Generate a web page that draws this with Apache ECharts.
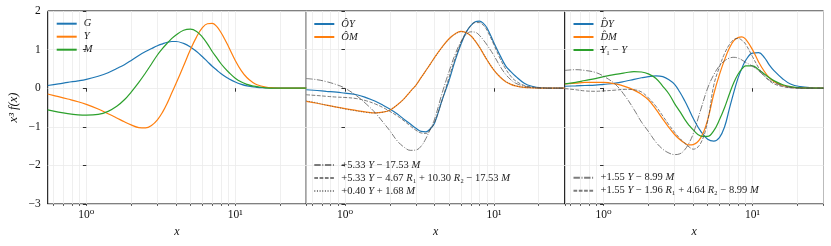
<!DOCTYPE html>
<html>
<head>
<meta charset="utf-8">
<script src="https://cdn.jsdelivr.net/npm/echarts@6/dist/echarts.min.js"></script>
<style>html,body{margin:0;padding:0;background:#fff}#c{width:831px;height:246px}</style>
</head>
<body>
<div id="c"></div>
<script>
// ---- data (x values shared by all curves) ----
const xs = [0.55, 0.65, 0.75, 0.88, 1.0, 1.2, 1.4, 1.6, 1.8, 2.0, 2.25, 2.5, 2.75, 3.0, 3.25, 3.5, 3.75, 4.0, 4.5, 5.0, 5.5, 6.0, 6.5, 7.0, 7.5, 8.0, 8.5, 9.0, 10, 11, 12, 13, 14, 16, 18, 21, 25, 30];

// panel 1
const G = [0.07,0.11,0.15,0.19,0.23, 0.31,0.40,0.51,0.61,0.72, 0.85,0.95,1.03,1.10,1.15, 1.19,1.21,1.21,1.16,1.07, 0.95,0.82,0.69,0.57,0.47, 0.38,0.31,0.25,0.16,0.10, 0.06,0.04,0.02,0.01,0.0, 0,0,0];
const Y = [-0.15,-0.22,-0.28,-0.35,-0.42, -0.54,-0.66,-0.77,-0.87,-0.95, -1.02,-1.03,-0.96,-0.82,-0.62, -0.38,-0.12,0.12,0.58,1.0, 1.33,1.56,1.67,1.68,1.60, 1.45,1.27,1.08,0.72,0.45, 0.27,0.16,0.09,0.03,0.01, 0,0,0];
const M = [-0.56,-0.62,-0.66,-0.69,-0.70, -0.68,-0.60,-0.47,-0.30,-0.10, 0.15,0.40,0.64,0.86,1.03, 1.17,1.29,1.38,1.50,1.53, 1.47,1.33,1.15,0.95,0.79, 0.64,0.52,0.42,0.26,0.16, 0.10,0.06,0.04,0.01,0, 0,0,0];

// panel 2
const OY = [-0.04,-0.06,-0.08,-0.10,-0.13, -0.17,-0.25,-0.34,-0.44,-0.54, -0.67,-0.81,-0.93,-1.04,-1.12, -1.13,-1.05,-0.90,-0.30,0.20, 0.72,1.13,1.44,1.62,1.72, 1.74,1.68,1.56,1.18,0.85, 0.58,0.43,0.31,0.13,0.05, 0.01,0,0];
const OM = [-0.34,-0.39,-0.44,-0.49,-0.53, -0.58,-0.62,-0.64,-0.62,-0.57, -0.43,-0.27,-0.08,0.08,0.28, 0.46,0.63,0.80,1.07,1.28, 1.41,1.47,1.44,1.36,1.22, 1.06,0.89,0.73,0.47,0.29, 0.17,0.10,0.06,0.02,0.01, 0,0,0];
const fitO_dashdot = [0.25,0.22,0.17,0.09,0.0, -0.20,-0.42,-0.64,-0.88,-1.10, -1.37,-1.53,-1.61,-1.60,-1.50, -1.30,-1.05,-0.80,-0.12,0.43, 0.88,1.20,1.38,1.46,1.45, 1.37,1.25,1.12,0.85,0.57, 0.36,0.22,0.13,0.05,0.02, 0,0,0];
const fitO_dashed = [-0.17,-0.19,-0.21,-0.23,-0.24, -0.27,-0.33,-0.41,-0.50,-0.60, -0.72,-0.85,-0.98,-1.09,-1.16, -1.17,-1.07,-0.88,-0.30,0.28, 0.78,1.17,1.45,1.62,1.70, 1.70,1.63,1.50,1.13,0.77, 0.50,0.31,0.19,0.07,0.03, 0.01,0,0];
const fitO_dotted = [-0.33,-0.38,-0.44,-0.49,-0.54, -0.59,-0.63,-0.64,-0.62,-0.56, -0.43,-0.27,-0.09,0.08,0.27, 0.46,0.63,0.79,1.06,1.27, 1.40,1.46,1.44,1.36,1.23, 1.07,0.90,0.74,0.48,0.30, 0.18,0.11,0.06,0.02,0.01, 0,0,0];

// panel 3
const DY = [0.05,0.06,0.07,0.08,0.10, 0.13,0.18,0.23,0.27,0.30, 0.32,0.30,0.22,0.10,-0.10, -0.32,-0.55,-0.78,-1.12,-1.32, -1.37,-1.28,-1.00,-0.53,-0.10, 0.26,0.52,0.72,0.91,0.92, 0.80,0.60,0.45,0.24,0.11, 0.04,0.01,0];
const DM = [0.11,0.13,0.15,0.15,0.15, 0.11,0.04,-0.05,-0.16,-0.30, -0.55,-0.80,-1.02,-1.20,-1.33, -1.42,-1.47,-1.46,-1.28,-0.82, -0.15,0.35,0.74,1.04,1.23, 1.31,1.33,1.27,1.00,0.68, 0.44,0.27,0.17,0.07,0.03, 0.01,0,0];
const Y1mY = [0.11,0.15,0.20,0.25,0.30, 0.36,0.40,0.43,0.42,0.37, 0.25,0.05,-0.15,-0.40,-0.60, -0.80,-0.96,-1.08,-1.24,-1.25, -1.10,-0.82,-0.50,-0.15,0.15, 0.36,0.50,0.58,0.58,0.48, 0.37,0.27,0.19,0.09,0.04, 0.01,0,0];
const fitD_dashdot = [0.46,0.48,0.46,0.41,0.31, 0.10,-0.21,-0.55,-0.88,-1.12, -1.40,-1.58,-1.68,-1.72,-1.70, -1.60,-1.42,-1.18,-0.55,0.0, 0.35,0.58,0.71,0.78,0.80, 0.78,0.73,0.67,0.57,0.45, 0.32,0.21,0.14,0.06,0.02, 0,0,0];
const fitD_dashed = [-0.01,-0.04,-0.07,-0.08,-0.07, -0.05,-0.03,-0.04,-0.10,-0.25, -0.47,-0.72,-0.95,-1.14,-1.30, -1.42,-1.52,-1.58,-1.42,-0.85, 0.08,0.55,0.90,1.13,1.26, 1.29,1.24,1.14,0.82,0.53, 0.32,0.19,0.11,0.04,0.01, 0,0,0];

// axes
const yTicks = [-3, -2, -1, 0, 1, 2];
const xMajor = [1, 10];
const xMinor = [0.6, 0.7, 0.8, 0.9, 2, 3, 4, 5, 6, 7, 8, 9, 20, 30];
const xMin = 0.55, xMax = 30;
const xMajorLabels = {0: '10\u2070', 1: '10\u00B9'};

// legend labels
const legendLabels = {
  'G': '{i|G}', 'Y': '{i|Y}', 'M': '{i|M}',
  'ÔY': '{i|ÔY}', 'ÔM': '{i|ÔM}',
  'fitO1': '+5.33 {i|Y} − 17.53 {i|M}',
  'fitO2': '+5.33 {i|Y} − 4.67 {i|R}₁ + 10.30 {i|R}₂ − 17.53 {i|M}',
  'fitO3': '+0.40 {i|Y} + 1.68 {i|M}',
  'D̂Y': '{i|D̂Y}', 'D̂M': '{i|D̂M}', 'Y1-Y': '{i|Y}₁ − {i|Y}',
  'fitD1': '+1.55 {i|Y} − 8.99 {i|M}',
  'fitD2': '+1.55 {i|Y} − 1.96 {i|R}₁ + 4.64 {i|R}₂ − 8.99 {i|M}'
};

// ---- chart ----
const FONT = "'Liberation Serif', 'DejaVu Serif', serif";
const C_BLUE = '#1f77b4', C_ORANGE = '#ff7f0e', C_GREEN = '#2ca02c', C_GRAY = 'rgba(80,80,80,0.75)';
const DASHDOT = [6.4, 1.6, 1, 1.6], DASHED = [3.7, 1.6], DOTTED = [1, 1.65];
const GRID_COLOR = '#ebebeb';
const lg = v => Math.log10(v);

const gridLefts = [47.7, 306.3, 564.9];
const grids = gridLefts.map(l => ({left: l, top: 11, width: 258.6, height: 193, show: true, borderColor: '#000', borderWidth: 1, backgroundColor: 'transparent'}));

const xAxes = [], yAxes = [];
gridLefts.forEach((l, i) => {
  xAxes.push({
    gridIndex: i, type: 'value', position: 'bottom', min: lg(xMin), max: lg(xMax),
    axisLine: {show: false},
    axisTick: {show: true, length: 3.5, customValues: xMajor.map(lg), lineStyle: {color: '#000', width: 0.8}},
    axisLabel: {show: true, customValues: xMajor.map(lg), formatter: v => xMajorLabels[Math.round(v)], fontFamily: FONT, fontSize: 11.5, color: '#111', margin: 5},
    splitLine: {show: false},
    name: 'x', nameLocation: 'middle', nameGap: 21,
    nameTextStyle: {fontFamily: FONT, fontStyle: 'italic', fontSize: 12, color: '#111'}
  });
  xAxes.push({
    gridIndex: i, type: 'value', position: 'bottom', min: lg(xMin), max: lg(xMax),
    axisLine: {show: false},
    axisTick: {show: true, length: 2, customValues: xMajor.concat(xMinor).map(lg), lineStyle: {color: '#000', width: 0.6}},
    axisLabel: {show: false},
    splitLine: {show: true, lineStyle: {color: GRID_COLOR, width: 0.8}}
  });
  yAxes.push({
    gridIndex: i, type: 'value', min: yTicks[0], max: yTicks[yTicks.length - 1], interval: 1,
    axisLine: {show: false},
    axisTick: {show: true, length: 3.5, lineStyle: {color: '#000', width: 0.8}},
    axisLabel: {show: i === 0, fontFamily: FONT, fontSize: 11.5, color: '#111', margin: 7,
      formatter: v => (v < 0 ? '\u2212' + (-v) : String(v))},
    splitLine: {show: true, lineStyle: {color: GRID_COLOR, width: 0.8}},
    name: i === 0 ? 'x\u00B3 f(x)' : '', nameLocation: 'middle', nameGap: 27, nameRotate: 90,
    nameTextStyle: {fontFamily: FONT, fontStyle: 'italic', fontSize: 12.5, color: '#111'}
  });
});

function line(name, arr, gi, color, dash, width) {
  return {
    name: name, type: 'line', xAxisIndex: gi * 2, yAxisIndex: gi,
    data: xs.map((x, k) => [lg(x), arr[k]]),
    showSymbol: false, symbol: 'none', smooth: 0.4, animation: false,
    lineStyle: {color: color, width: width || 1.2, type: dash || 'solid'},
    itemStyle: {color: color}, z: dash ? 3 : 2
  };
}

const series = [
  line('G', G, 0, C_BLUE), line('Y', Y, 0, C_ORANGE), line('M', M, 0, C_GREEN),
  line('ÔY', OY, 1, C_BLUE), line('ÔM', OM, 1, C_ORANGE),
  line('fitO1', fitO_dashdot, 1, C_GRAY, DASHDOT, 1),
  line('fitO2', fitO_dashed, 1, C_GRAY, DASHED, 1),
  line('fitO3', fitO_dotted, 1, C_GRAY, DOTTED, 1),
  line('D̂Y', DY, 2, C_BLUE), line('D̂M', DM, 2, C_ORANGE), line('Y1-Y', Y1mY, 2, C_GREEN),
  line('fitD1', fitD_dashdot, 2, C_GRAY, DASHDOT, 1),
  line('fitD2', fitD_dashed, 2, C_GRAY, DASHED, 1)
];

const legendBase = {
  orient: 'vertical', itemWidth: 20, itemHeight: 10, itemGap: 0, padding: 0,
  selectedMode: false,
  itemStyle: {opacity: 0},
  formatter: n => legendLabels[n] || n,
  textStyle: {fontFamily: FONT, fontSize: 10.5, color: '#222', lineHeight: 13, padding: [0, 0, 0, 2],
    rich: {i: {fontFamily: FONT, fontStyle: 'italic', fontSize: 10.5, color: '#222', lineHeight: 13}}}
};
const legends = [
  Object.assign({}, legendBase, {data: ['G', 'Y', 'M'], left: 55.7, top: 17.2}),
  Object.assign({}, legendBase, {data: ['ÔY', 'ÔM'], left: 313.3, top: 17.5}),
  Object.assign({}, legendBase, {data: ['fitO1', 'fitO2', 'fitO3'], left: 313.3, top: 158.5}),
  Object.assign({}, legendBase, {data: ['D̂Y', 'D̂M', 'Y1-Y'], left: 572.5, top: 17.5}),
  Object.assign({}, legendBase, {data: ['fitD1', 'fitD2'], left: 572.5, top: 171.2})
];

const chart = echarts.init(document.getElementById('c'), null, {renderer: 'canvas'});
chart.setOption({
  animation: false,
  backgroundColor: '#fff',
  grid: grids, xAxis: xAxes, yAxis: yAxes, legend: legends, series: series
});
</script>
</body>
</html>
